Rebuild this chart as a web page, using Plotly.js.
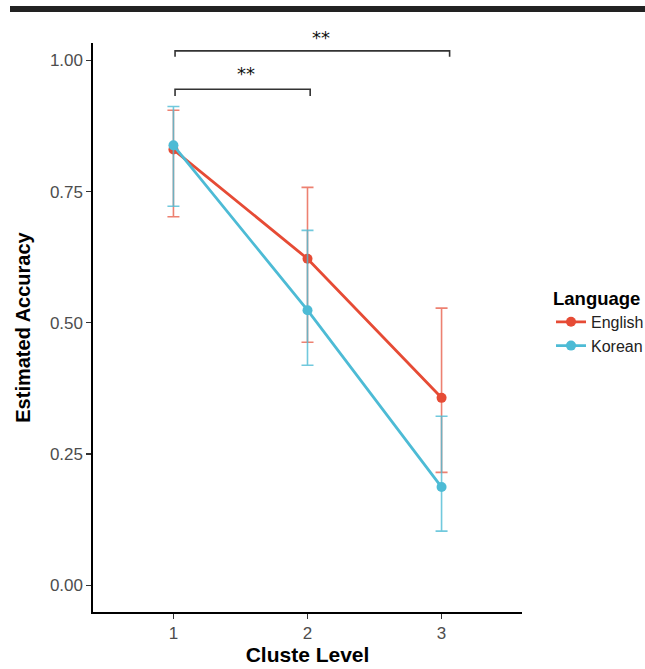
<!DOCTYPE html>
<html>
<head>
<meta charset="utf-8">
<script src="https://cdn.plot.ly/plotly-3.0.1.min.js"></script>
<style>
  html, body { margin: 0; padding: 0; background: #fff; }
  #wrap { position: relative; width: 645px; height: 669px; overflow: hidden; }
  #chart { position: absolute; left: 0; top: 0; width: 645px; height: 669px; }
  #bar { position: absolute; left: 10px; top: 6px; width: 635px; height: 6px; background: #222; z-index: 5; }
</style>
</head>
<body>
<div id="wrap">
  <div id="chart"></div>
  <div id="bar"></div>
</div>
<script>
// ---- data ----
const clusterLevels = [1, 2, 3];
const tickLabels = ["1", "2", "3"];
const englishEst = [0.830, 0.622, 0.357];
const englishUpper = [0.905, 0.758, 0.528];
const englishLower = [0.702, 0.463, 0.215];
const koreanEst = [0.838, 0.524, 0.187];
const koreanUpper = [0.912, 0.676, 0.322];
const koreanLower = [0.722, 0.419, 0.103];
const bracketStart = [1, 1];
const bracketEnd = [2, 3];
const bracketLabels = ["**", "**"];

const redCol = "#E64B35";
const blueCol = "#4DBBD5";
const FONT = "Liberation Sans, Arial, sans-serif";

function errs(est, up, lo) {
  return {
    type: "data", symmetric: false,
    array: est.map((v, i) => up[i] - v),
    arrayminus: est.map((v, i) => v - lo[i])
  };
}

const traces = [
  {
    x: clusterLevels, y: englishEst, name: "English", type: "scatter", mode: "lines+markers",
    line: { color: redCol, width: 2.8 },
    marker: { color: redCol, size: 10 },
    error_y: Object.assign(errs(englishEst, englishUpper, englishLower), { color: "rgba(230,75,53,0.7)", thickness: 1.6, width: 6 })
  },
  {
    x: clusterLevels, y: koreanEst, name: "Korean", type: "scatter", mode: "lines+markers",
    line: { color: blueCol, width: 2.8 },
    marker: { color: blueCol, size: 10 },
    error_y: Object.assign(errs(koreanEst, koreanUpper, koreanLower), { color: "rgba(77,187,213,0.8)", thickness: 1.6, width: 6 })
  }
];

// significance brackets (drawing geometry)
const brTop = [0.945, 1.018];
const brFoot = [0.932, 1.007];
const brStartOff = [0.012, 0.012];
const brEndOff = [0.02, 0.06];
const starYpaper = [0.946, 1.009];
const starShift = [0.04, 0.1];
const shapes = [];
const annotations = [];
bracketStart.forEach((s0, i) => {
  const s = s0 + brStartOff[i];
  const e = bracketEnd[i] + brEndOff[i];
  shapes.push({
    type: "path", xref: "x", yref: "y",
    path: `M ${s},${brFoot[i]} L ${s},${brTop[i]} L ${e},${brTop[i]} L ${e},${brFoot[i]}`,
    line: { color: "#333", width: 1.6 }
  });
  annotations.push({
    xref: "x", yref: "paper", x: (bracketStart[i] + bracketEnd[i]) / 2 + starShift[i], y: starYpaper[i],
    text: bracketLabels[i], showarrow: false, xanchor: "center", yanchor: "middle",
    font: { family: "DejaVu Sans, sans-serif", size: 18, color: "#111" }
  });
});

const layout = {
  width: 645, height: 669,
  margin: { l: 93, r: 123, t: 43, b: 57, autoexpand: false },
  paper_bgcolor: "#fff", plot_bgcolor: "#fff",
  font: { family: FONT },
  showlegend: true,
  xaxis: {
    range: [0.4, 3.6], tickmode: "array", tickvals: clusterLevels, ticktext: tickLabels,
    showgrid: false, zeroline: false, showline: true, linecolor: "#000", linewidth: 1.6,
    ticks: "outside", ticklen: 5, tickcolor: "#333", tickwidth: 1.2,
    tickfont: { size: 17, color: "#4d4d4d", family: FONT },
    title: { text: "Cluste Level", font: { size: 21, color: "#000", family: FONT, weight: "bold" }, standoff: 0 }
  },
  yaxis: {
    range: [-0.051, 1.033], tickmode: "array", tickvals: [0, 0.25, 0.5, 0.75, 1.0],
    ticktext: ["0.00", "0.25", "0.50", "0.75", "1.00"],
    showgrid: false, zeroline: false, showline: true, linecolor: "#000", linewidth: 1.6,
    ticks: "outside", ticklen: 5, tickcolor: "#333", tickwidth: 1.2,
    tickfont: { size: 17, color: "#4d4d4d", family: FONT },
    title: { text: "Estimated Accuracy", font: { size: 20, color: "#000", family: FONT, weight: "bold" }, standoff: 14 }
  },
  legend: {
    x: 1.0676, xanchor: "left", y: 0.582, yanchor: "top",
    title: { text: "Language", font: { size: 18.5, color: "#000", family: FONT, weight: "bold" } },
    font: { size: 16, color: "#222", family: FONT },
    bgcolor: "rgba(0,0,0,0)", tracegroupgap: 0, itemwidth: 30
  },
  shapes: shapes,
  annotations: annotations
};

Plotly.newPlot("chart", traces, layout, { displayModeBar: false, staticPlot: true });
</script>
</body>
</html>
